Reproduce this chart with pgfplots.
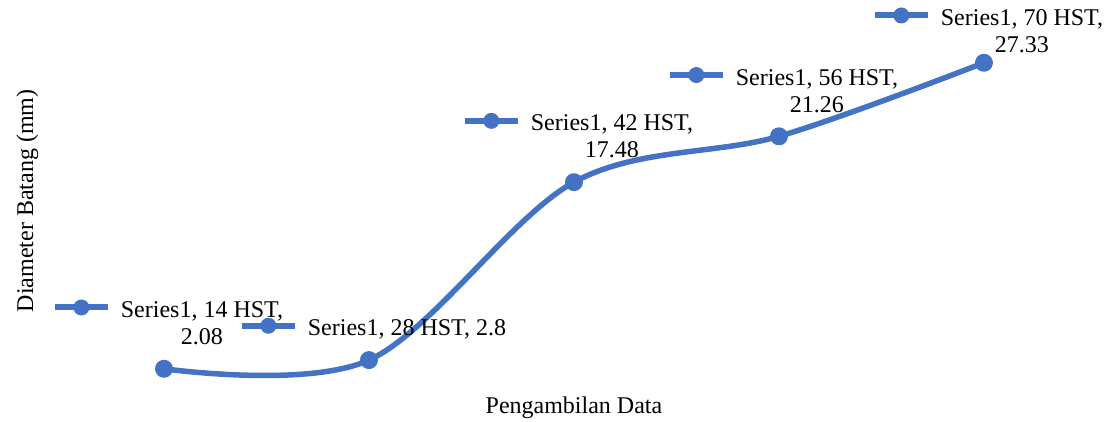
\documentclass[border=0pt]{standalone}
\usepackage{pgfplots}
\pgfplotsset{compat=1.18}
\usepackage{pgfplotstable}
\usepackage{fontspec}
\setmainfont{Liberation Serif}
\definecolor{exblue}{HTML}{4472C4}
\pgfplotstableread{
x y cat
0 2.08 14
1 2.8 28
2 17.48 42
3 21.26 56
4 27.33 70
}\datatable
\newcommand{\keysym}{\tikz[baseline={(0,-10pt)}]{\draw[exblue,line width=6pt](0,0)--(53pt,0);\fill[exblue](26.5pt,0) circle[radius=8pt];}}
\newcommand{\twolab}[2]{\keysym\hspace{10pt}\begin{tabular}[t]{@{}c@{}}Series1, #1 HST,\\#2\end{tabular}}
\newcommand{\onelab}[2]{\keysym\hspace{10pt}\begin{tabular}[t]{@{}c@{}}Series1, #1 HST, #2\end{tabular}}
\newcommand{\num}[1]{\pgfmathprintnumber[fixed,precision=2,assume math mode=true]{#1}}
\begin{document}
\begin{tikzpicture}[font=\fontsize{24}{27}\selectfont]
\path[use as bounding box] (0,0) rectangle (1108pt,-421pt);
\begin{axis}[
  at={(61.5pt,-394pt)}, anchor=south west,
  scale only axis, width=1025pt, height=363.6pt,
  xmin=-0.5, xmax=4.5, ymin=0, ymax=30,
  axis line style={draw=none}, ticks=none,
  clip=false,
  xlabel={Pengambilan Data}, ylabel={Diameter Batang (mm)},
  xlabel style={at={(axis description cs:0.5,-0.0523)}, anchor=base},
  ylabel style={at={(axis description cs:-0.0278,0.531)}, anchor=base},
  labstyle/.style={draw=none, mark=none, point meta=explicit symbolic,
    visualization depends on={y \as \rawy},
    every node near coord/.append style={anchor=south, inner sep=0pt, yshift=16pt, xshift=3.5pt, text=black}},
]
\addplot[exblue, line width=5.5pt, smooth, tension=0.55, line join=round,
  mark=*, mark size=6.2pt, mark options={fill=exblue, draw=none},
] table[x=x, y=y] {\datatable};
\addplot[labstyle, skip coords between index={1}{2}, skip coords between index={4}{5},
  nodes near coords={\twolab{\pgfplotspointmeta}{\num{\rawy}}},
] table[x=x, y=y, meta=cat] {\datatable};
\addplot[labstyle, skip coords between index={0}{1}, skip coords between index={2}{5},
  nodes near coords={\onelab{\pgfplotspointmeta}{\num{\rawy}}},
] table[x=x, y=y, meta=cat] {\datatable};
\addplot[labstyle, skip coords between index={0}{4},
  nodes near coords={\twolab{\pgfplotspointmeta}{\num{\rawy}}},
  every node near coord/.append style={yshift=-14pt},
] table[x=x, y=y, meta=cat] {\datatable};
\end{axis}
\end{tikzpicture}
\end{document}
